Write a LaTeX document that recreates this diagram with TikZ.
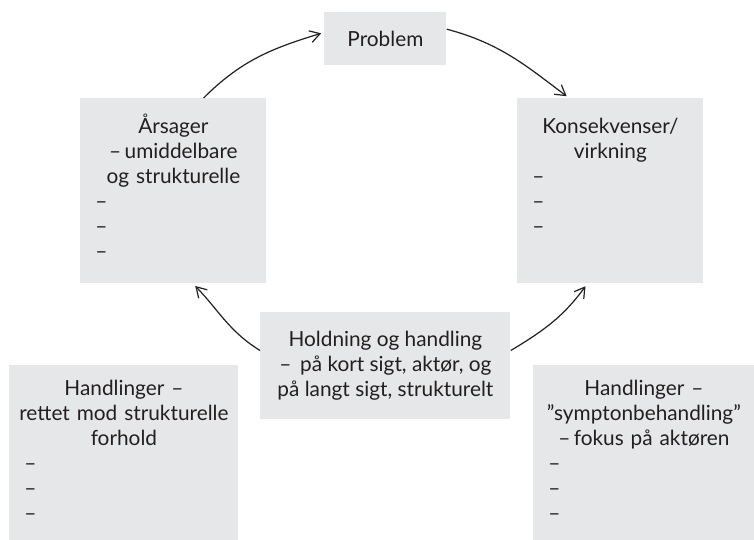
\documentclass[tikz,border=0pt]{standalone}
\usepackage{fontspec}
\setmainfont{Lato}
\usepackage{tikz}
\usetikzlibrary{arrows.meta, positioning}
\usepackage{xcolor}
\definecolor{boxgray}{HTML}{E6E7E8}
\definecolor{inkblack}{HTML}{231F20}
\newcommand{\CycleBoxColor}{boxgray}
\newcommand{\CycleInkColor}{inkblack}
\newcommand{\CycleDashes}{\par\raggedright\hspace*{3pt}–\\\hspace*{3pt}–\\\hspace*{3pt}–}

\begin{document}
\begin{tikzpicture}[
	x=0.5pt, y=-0.5pt,
	cycle box/.style={
		fill=\CycleBoxColor,
		text=\CycleInkColor,
		anchor=north west,
		font=\fontsize{10.4}{12.5}\selectfont
	},
	problem box/.style={
		cycle box,
		inner sep=0pt,
		minimum width=61pt,
		minimum height=26.5pt
	},
	topic box/.style={
		cycle box,
		inner xsep=4.5pt,
		inner ysep=10pt,
		text width=84pt,
		text height=7.5pt,
		text depth=65pt
	},
	action box/.style={
		cycle box,
		inner xsep=4.5pt,
		inner ysep=7.5pt,
		text width=#1,
		text height=7.5pt,
		text depth=65pt
	},
	middle box/.style={
		cycle box,
		inner sep=0pt,
		align=center,
		minimum width=125pt,
		minimum height=53.5pt
	},
	cycle arrow/.style={
		-{Straight Barb[length=5pt,width=6pt]},
		line width=0.6pt,
		draw=\CycleInkColor,
		shorten >=1.5pt
	}
]
	\useasboundingbox (0,0) rectangle (754,540);

	% the cycle
	\node[problem box] (problem) at (324,12) {Problem};
	\node[topic box] (arsager) at (80,98)
		{{\centering Årsager\\ –\,umiddelbare\\ og strukturelle\par}\CycleDashes};
	\node[topic box] (konsekvenser) at (517,98)
		{{\centering Konsekvenser/\\ virkning\par}\CycleDashes};
	\node[middle box] (holdning) at (260,312)
		{Holdning og handling\\ – \,på kort sigt, aktør, og\\ på langt sigt, strukturelt};

	% the two kinds of action
	\node[action box=105.5pt] (strukturelle) at (9,365)
		{{\centering Handlinger –\\ rettet mod strukturelle\\ forhold\par}\CycleDashes};
	\node[action box=101.5pt] (symptom) at (533,365)
		{{\centering Handlinger –\\ ”symptonbehandling”\\ –\,fokus på aktøren\par}\CycleDashes};

	\draw[cycle arrow] (arsager.72) to[out=45, in=197] (problem.174);
	\draw[cycle arrow] (problem.9) to[out=-15, in=143] (konsekvenser.114);
	\draw[cycle arrow] (holdning.173) to[out=148, in=-46] (arsager.-78);
	\draw[cycle arrow] (holdning.7) to[out=31, in=-126] (konsekvenser.-104);
\end{tikzpicture}
\end{document}
